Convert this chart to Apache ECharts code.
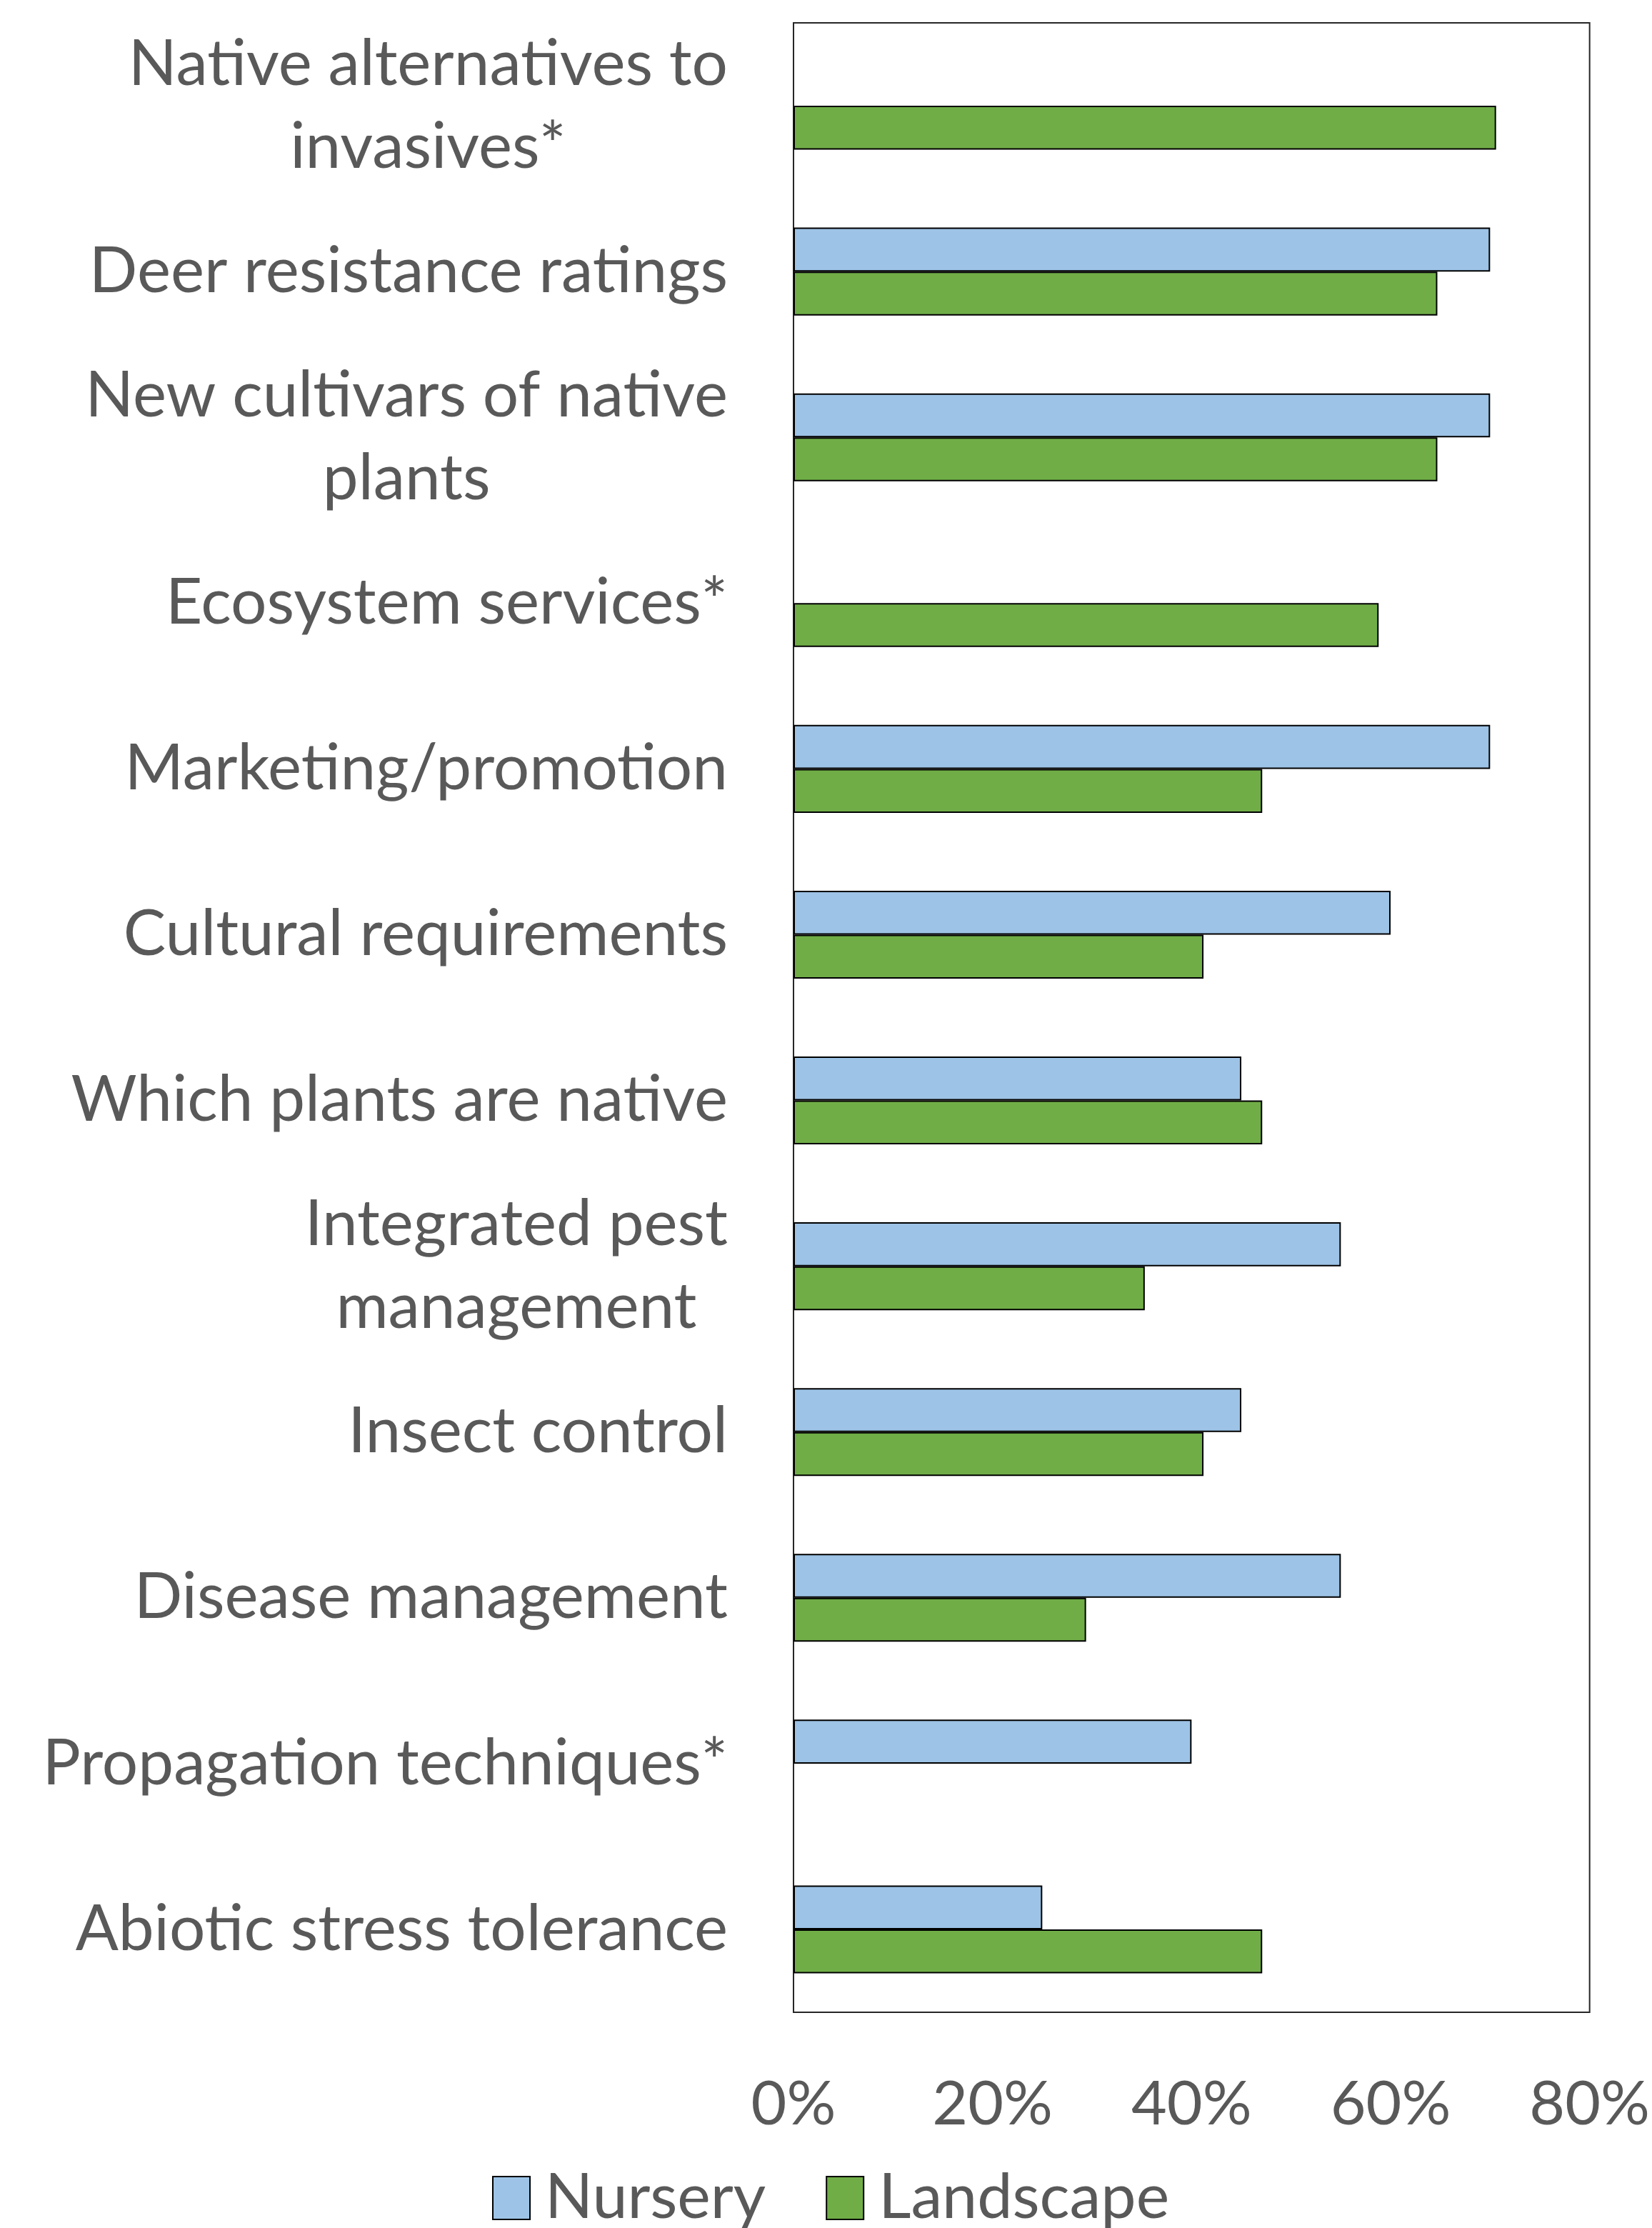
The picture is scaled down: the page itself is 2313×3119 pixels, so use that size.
<!DOCTYPE html>
<html>
<head>
<meta charset="utf-8">
<script src="https://cdn.jsdelivr.net/npm/echarts@6/dist/echarts.min.js"></script>
<style>
html,body{margin:0;padding:0;background:#fff;}
#chart{width:2313px;height:3119px;}
</style>
</head>
<body>
<div id="chart"></div>
<script>
const categories = [
  'Native alternatives to\ninvasives*',
  'Deer resistance ratings',
  'New cultivars of native\nplants',
  'Ecosystem services*',
  'Marketing/promotion',
  'Cultural requirements',
  'Which plants are native',
  'Integrated pest\nmanagement',
  'Insect control',
  'Disease management',
  'Propagation techniques*',
  'Abiotic stress tolerance'
];
const seriesNames = ['Nursery', 'Landscape'];
const nursery   = [null, 70, 70, null, 70, 60, 45, 55, 45, 55, 40, 25];
const landscape = [70.6, 64.7, 64.7, 58.8, 47.1, 41.2, 47.1, 35.3, 41.2, 29.4, null, 47.1];
const xTicks = { min: 0, max: 80, interval: 20 };

const FONT = "Lato, 'Liberation Sans', sans-serif";
const GREY = '#595959';
const LABEL_SIZE = 89;

const chart = echarts.init(document.getElementById('chart'), null, { renderer: 'canvas' });
chart.setOption({
  animation: false,
  backgroundColor: '#ffffff',
  grid: {
    left: 1111, right: 80, top: 32, bottom: 302,
    show: true, borderColor: '#262626', borderWidth: 2, backgroundColor: 'transparent'
  },
  legend: {
    data: seriesNames,
    left: 684, top: 3028,
    itemWidth: 52, itemHeight: 60, itemGap: 84,
    icon: 'rect',
    textStyle: { fontFamily: FONT, fontSize: 88, color: GREY, padding: [0, 0, 0, 16] }
  },
  xAxis: {
    type: 'value',
    min: xTicks.min, max: xTicks.max, interval: xTicks.interval,
    axisLine: { show: false },
    axisTick: { show: false },
    splitLine: { show: false },
    axisLabel: {
      formatter: '{value}%',
      fontFamily: FONT, fontSize: 86, color: GREY, margin: 86
    }
  },
  yAxis: {
    type: 'category',
    data: categories,
    inverse: true,
    axisLine: { show: false },
    axisTick: { show: false },
    splitLine: { show: false },
    axisLabel: {
      interval: 0,
      align: 'right',
      margin: 92,
      fontFamily: FONT, fontSize: LABEL_SIZE, color: GREY, lineHeight: 116,
      formatter: v => v.split('\n').map(s => '{c|' + s + '}').join('\n'),
      rich: {
        c: { align: 'center', fontFamily: FONT, fontSize: LABEL_SIZE, color: GREY, lineHeight: 116 }
      }
    }
  },
  series: [
    {
      name: seriesNames[0], type: 'bar', data: nursery,
      barGap: '0%', barCategoryGap: '47%',
      itemStyle: { color: '#9DC3E6', borderColor: '#000', borderWidth: 2 }
    },
    {
      name: seriesNames[1], type: 'bar', data: landscape,
      barGap: '0%', barCategoryGap: '47%',
      itemStyle: { color: '#70AD47', borderColor: '#000', borderWidth: 2 }
    }
  ]
});
</script>
</body>
</html>
